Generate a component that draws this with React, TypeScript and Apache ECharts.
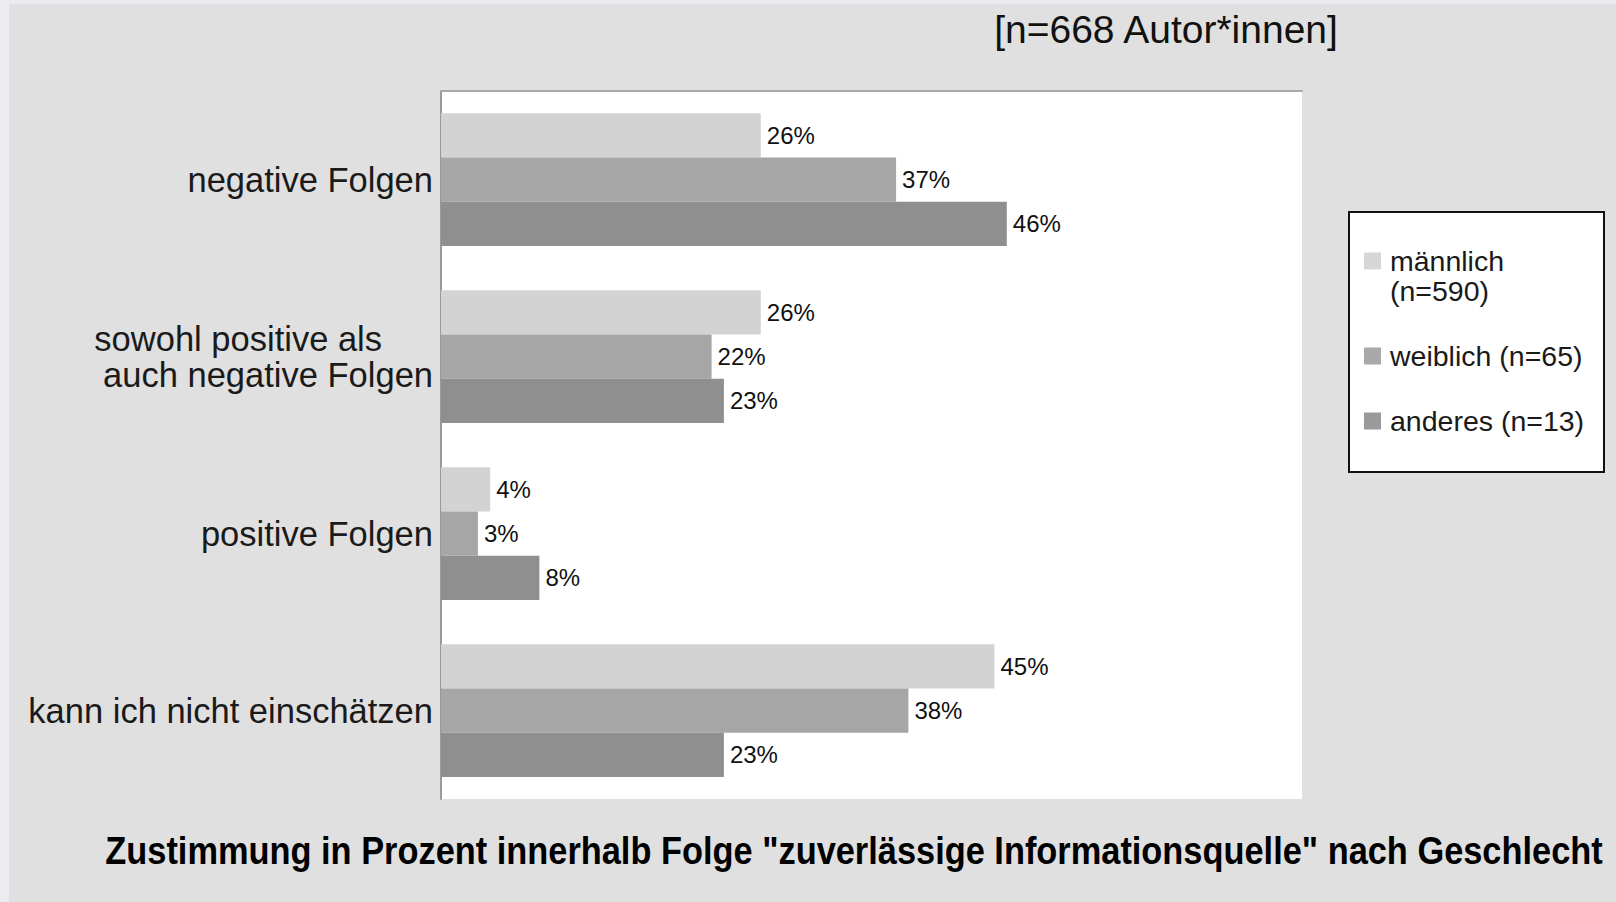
import React, { useEffect, useRef } from "react";
import * as echarts from "echarts";

const categories = [
  "negative Folgen",
  "sowohl positive als auch negative Folgen",
  "positive Folgen",
  "kann ich nicht einschätzen",
];
const seriesNames = ["männlich (n=590)", "weiblich (n=65)", "anderes (n=13)"];
const maennlich = [26, 26, 4, 45];
const weiblich = [37, 22, 3, 38];
const anderes = [46, 23, 8, 23];
const barColors = ["#d3d3d3", "#a6a6a6", "#8f8f8f"];
const legendIconColors = ["#d6d6d6", "#a9a9a9", "#9a9a9a"];
const noteText = "[n=668 Autor*innen]";
const captionText =
  'Zustimmung in Prozent innerhalb Folge "zuverlässige Informationsquelle" nach Geschlecht';

const SANS = '"Liberation Sans", Arial, Helvetica, sans-serif';

export default function App() {
  const ref = useRef<HTMLDivElement>(null);

  useEffect(() => {
    document.body.style.margin = "0";
    if (!ref.current) return;
    const chart = echarts.init(ref.current, null, { renderer: "svg" });
    const values = [maennlich, weiblich, anderes];

    const option: any = {
      animation: false,
      backgroundColor: "#e0e0e0",
      grid: {
        left: 441,
        top: 91,
        width: 861,
        height: 708,
        show: true,
        backgroundColor: "#ffffff",
        borderWidth: 0,
      },
      xAxis: {
        type: "value",
        position: "top",
        min: 0,
        max: 70,
        axisLine: { show: true, lineStyle: { color: "#a8a8a8", width: 2 } },
        axisTick: { show: false },
        axisLabel: { show: false },
        splitLine: { show: false },
      },
      yAxis: {
        type: "category",
        inverse: true,
        data: categories,
        axisTick: { show: false },
        axisLine: { show: true, lineStyle: { color: "#9a9a9a", width: 2 } },
        axisLabel: {
          margin: 8,
          fontFamily: SANS,
          fontSize: 34.5,
          color: "#1a1a1a",
          formatter: (v: string) =>
            v === categories[1]
              ? "{a|sowohl positive als}\n{b|auch negative Folgen}"
              : v,
          rich: {
            a: {
              fontFamily: SANS,
              fontSize: 34.5,
              color: "#1a1a1a",
              lineHeight: 36,
              padding: [0, 51, 0, 0],
            },
            b: {
              fontFamily: SANS,
              fontSize: 34.5,
              color: "#1a1a1a",
              lineHeight: 36,
            },
          },
        },
      },
      legend: {
        orient: "vertical",
        left: 1364,
        top: 216,
        padding: 0,
        itemGap: 35,
        itemWidth: 17,
        itemHeight: 17,
        selectedMode: false,
        icon: "rect",
        textStyle: {
          fontFamily: SANS,
          fontSize: 28.5,
          color: "#1a1a1a",
          lineHeight: 30,
          padding: [0, 0, 0, 4],
        },
        formatter: (name: string) =>
          name === seriesNames[0] ? "\nmännlich\n(n=590)" : name,
        data: seriesNames.map((n, i) => ({
          name: n,
          itemStyle: { color: legendIconColors[i] },
        })),
      },
      graphic: [
        {
          type: "rect",
          shape: { x: 0, y: 0, width: 1616, height: 4 },
          style: { fill: "#ececf0" },
          silent: true,
        },
        {
          type: "rect",
          shape: { x: 0, y: 0, width: 9, height: 902 },
          style: { fill: "#ececf0" },
          silent: true,
        },
        {
          type: "rect",
          z: -1,
          shape: { x: 1349, y: 212, width: 255, height: 260 },
          style: { fill: "#ffffff", stroke: "#111111", lineWidth: 2 },
          silent: true,
        },
        {
          type: "text",
          x: 1166,
          y: 29,
          style: {
            text: noteText,
            fontFamily: SANS,
            fontSize: 39,
            fill: "#111111",
            align: "center",
            verticalAlign: "middle",
          },
        },
        {
          type: "text",
          x: 854,
          y: 851,
          scaleX: 0.905,
          style: {
            text: captionText,
            fontFamily: SANS,
            fontWeight: "bold",
            fontSize: 38,
            fill: "#000000",
            align: "center",
            verticalAlign: "middle",
          },
        },
      ],
      series: seriesNames.map((name, i) => ({
        name,
        type: "bar",
        data: values[i],
        barGap: "0%",
        barCategoryGap: "25%",
        itemStyle: { color: barColors[i] },
        label: {
          show: true,
          position: "right",
          distance: 6,
          formatter: "{c}%",
          fontFamily: SANS,
          fontSize: 24,
          color: "#111111",
        },
      })),
    };

    chart.setOption(option);
    return () => chart.dispose();
  }, []);

  return <div ref={ref} style={{ width: 1616, height: 902 }} />;
}
